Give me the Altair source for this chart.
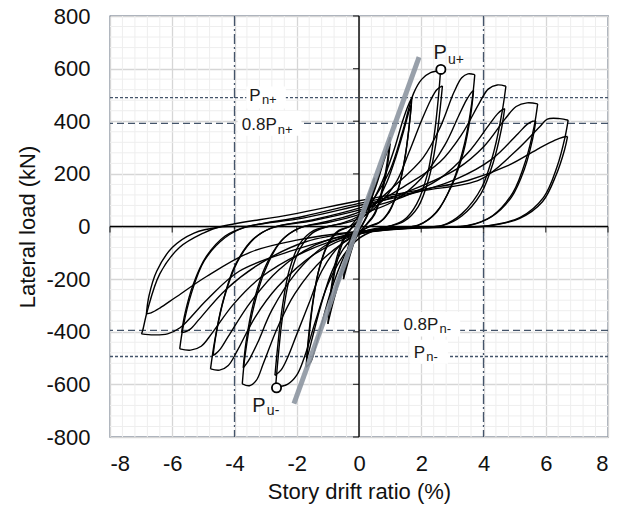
import altair as alt
import pandas as pd
import numpy as np

alt.data_transformers.disable_max_rows()

# ---------------- hysteresis data (story drift %, lateral load kN) ----------------
# each list = one path from a load reversal (tip) to the next tip
level_05 = [
    [(0, 0), (0.15, 60), (0.3, 115), (0.42, 160), (0.5, 185)],
    [(0.5, 185), (0.42, 120), (0.3, 55), (0.12, 10), (-0.05, -25), (-0.2, -75), (-0.35, -135), (-0.5, -200)],
    [(-0.5, -200), (-0.42, -130), (-0.3, -60), (-0.12, -12), (0.05, 20), (0.2, 65), (0.35, 120), (0.5, 170)],
    [(0.5, 170), (0.42, 110), (0.3, 50), (0.12, 8), (-0.05, -22), (-0.2, -70), (-0.35, -125), (-0.5, -185)],
]
level_10 = [
    [(-0.5, -185), (-0.4, -110), (-0.25, -40), (-0.1, -5), (0.1, 35), (0.35, 100), (0.6, 180), (0.8, 260), (0.92, 310), (1.0, 340)],
    [(1.0, 340), (0.9, 240), (0.72, 130), (0.5, 50), (0.25, 10), (0.0, -25), (-0.3, -90), (-0.55, -175), (-0.8, -275), (-0.92, -330), (-1.0, -370)],
    [(-1.0, -370), (-0.9, -260), (-0.72, -140), (-0.5, -55), (-0.25, -8), (0.0, 25), (0.3, 80), (0.55, 155), (0.8, 250), (0.92, 290), (1.0, 315)],
    [(1.0, 315), (0.9, 220), (0.72, 120), (0.5, 45), (0.25, 8), (0.0, -22), (-0.3, -80), (-0.55, -160), (-0.8, -255), (-0.92, -310), (-1.0, -345)],
]
level_17 = [
    [(-1.0, -345), (-0.9, -240), (-0.72, -120), (-0.45, -35), (-0.15, 5), (0.2, 55), (0.5, 110), (0.85, 200), (1.15, 300), (1.4, 400), (1.58, 460), (1.7, 490)],
    [(1.7, 490), (1.63, 400), (1.5, 280), (1.3, 160), (1.0, 65), (0.7, 20), (0.35, 2), (0.0, -25), (-0.5, -120), (-0.9, -245), (-1.2, -370), (-1.4, -460), (-1.55, -515), (-1.7, -535)],
    [(-1.7, -535), (-1.63, -430), (-1.5, -300), (-1.3, -170), (-1.0, -70), (-0.65, -18), (-0.3, 0), (0.0, 22), (0.5, 80), (0.9, 170), (1.2, 270), (1.45, 370), (1.6, 435), (1.68, 462)],
    [(1.68, 462), (1.6, 370), (1.47, 255), (1.27, 145), (0.97, 55), (0.65, 15), (0.3, -2), (0.0, -22), (-0.5, -85), (-0.9, -180), (-1.2, -290), (-1.45, -400), (-1.6, -470), (-1.68, -505)],
]
level_26 = [
    [(-1.68, -505), (-1.6, -410), (-1.48, -290), (-1.28, -160), (-0.98, -60), (-0.65, -15), (-0.3, 0), (0.0, 40), (0.5, 110), (1.0, 215), (1.4, 360), (1.75, 505), (2.02, 560), (2.3, 585), (2.62, 592)],
    [(2.62, 592), (2.55, 490), (2.42, 350), (2.2, 200), (1.85, 85), (1.45, 25), (1.0, 2), (0.5, -15), (0.0, -45), (-0.5, -110), (-1.0, -220), (-1.4, -360), (-1.75, -495), (-2.0, -565), (-2.3, -600), (-2.68, -610)],
    [(-2.68, -610), (-2.6, -500), (-2.47, -355), (-2.25, -205), (-1.9, -85), (-1.5, -25), (-1.0, 0), (-0.5, 12), (0.0, 30), (0.6, 80), (1.2, 170), (1.6, 280), (2.0, 400), (2.3, 480), (2.5, 520), (2.68, 534)],
    [(2.68, 534), (2.6, 440), (2.47, 315), (2.25, 185), (1.9, 75), (1.45, 20), (1.0, 2), (0.5, -8), (0.0, -25), (-0.6, -70), (-1.2, -170), (-1.6, -290), (-2.0, -410), (-2.3, -500), (-2.5, -545), (-2.7, -566)],
]
level_37 = [
    [(-2.7, -566), (-2.62, -465), (-2.48, -320), (-2.25, -170), (-1.9, -65), (-1.45, -15), (-1.0, 0), (-0.5, 15), (0.0, 40), (1.1, 150), (2.05, 260), (2.6, 375), (3.05, 510), (3.3, 565), (3.5, 580), (3.72, 577)],
    [(3.72, 577), (3.63, 475), (3.4, 320), (3.0, 165), (2.5, 55), (1.9, 5), (1.0, -8), (0.0, -30), (-1.12, -120), (-2.06, -255), (-2.62, -385), (-3.07, -520), (-3.3, -585), (-3.52, -605), (-3.75, -598)],
    [(-3.75, -598), (-3.66, -490), (-3.43, -330), (-3.03, -170), (-2.5, -55), (-1.9, -5), (-1.0, 15), (0.0, 45), (1.1, 95), (2.02, 185), (2.76, 310), (3.2, 420), (3.45, 480), (3.6, 508), (3.68, 517)],
    [(3.68, 517), (3.59, 425), (3.36, 285), (2.96, 150), (2.45, 50), (1.9, 4), (1.0, -5), (0.0, -22), (-1.12, -75), (-2.05, -180), (-2.8, -318), (-3.25, -440), (-3.5, -500), (-3.64, -525), (-3.72, -537)],
]
level_47 = [
    [(-3.72, -537), (-3.63, -440), (-3.4, -295), (-3.0, -150), (-2.45, -48), (-1.9, -5), (-1.0, 20), (0.0, 55), (1.42, 150), (2.6, 245), (3.3, 350), (3.87, 470), (4.15, 522), (4.44, 538), (4.72, 533)],
    [(4.72, 533), (4.6, 437), (4.35, 293), (3.95, 150), (3.3, 48), (2.7, 5), (1.4, -6), (0.0, -28), (-1.43, -105), (-2.62, -230), (-3.34, -345), (-3.91, -472), (-4.2, -528), (-4.48, -546), (-4.77, -541)],
    [(-4.77, -541), (-4.65, -444), (-4.4, -298), (-4.0, -152), (-3.4, -48), (-2.8, -5), (-1.5, 22), (0.0, 62), (1.4, 112), (2.57, 180), (3.5, 280), (4.2, 390), (4.45, 428), (4.6, 443), (4.68, 448)],
    [(4.68, 448), (4.57, 367), (4.32, 246), (3.92, 125), (3.3, 40), (2.7, 4), (1.4, -4), (0.0, -22), (-1.4, -70), (-2.58, -165), (-3.5, -290), (-4.2, -418), (-4.45, -465), (-4.6, -483), (-4.69, -490)],
]
level_57 = [
    [(-4.69, -490), (-4.58, -402), (-4.33, -270), (-3.92, -137), (-3.35, -44), (-2.8, -5), (-1.4, 28), (0.0, 70), (1.72, 140), (3.16, 220), (4.02, 305), (4.7, 410), (5.05, 456), (5.4, 470), (5.74, 466)],
    [(5.74, 466), (5.63, 382), (5.37, 256), (4.95, 130), (4.3, 42), (3.5, 4), (1.8, -5), (0.0, -28), (-1.73, -95), (-3.17, -195), (-4.03, -295), (-4.72, -405), (-5.07, -455), (-5.41, -470), (-5.76, -465)],
    [(-5.76, -465), (-5.65, -381), (-5.39, -256), (-4.97, -130), (-4.3, -42), (-3.7, -4), (-1.8, 32), (0.0, 80), (1.7, 125), (3.12, 180), (4.26, 255), (5.1, 352), (5.4, 388), (5.58, 400), (5.68, 400)],
    [(5.68, 400), (5.57, 328), (5.32, 220), (4.9, 112), (4.25, 36), (3.5, 3), (1.8, -4), (0.0, -20), (-1.71, -58), (-3.14, -138), (-4.28, -240), (-5.13, -352), (-5.42, -390), (-5.6, -401), (-5.7, -402)],
]
level_67 = [
    [(-5.7, -402), (-5.59, -330), (-5.33, -221), (-4.9, -113), (-4.3, -36), (-3.7, -4), (-1.8, 38), (0.0, 88), (2.0, 135), (3.89, 178), (4.96, 278), (5.8, 378), (6.05, 408), (6.45, 410), (6.72, 404)],
    [(6.72, 404), (6.62, 340), (6.36, 226), (5.93, 111), (5.18, 35), (4.2, 4), (2.0, -5), (0.0, -25), (-2.1, -90), (-3.85, -170), (-4.9, -280), (-5.75, -385), (-6.15, -408), (-6.6, -412), (-6.99, -408)],
    [(-6.99, -408), (-6.95, -395), (-6.8, -320), (-6.4, -180), (-5.76, -79), (-5.0, -25), (-4.5, -2), (-2.2, 45), (0.0, 98), (2.0, 140), (3.5, 175), (4.8, 232), (5.8, 298), (6.3, 328), (6.55, 339), (6.7, 342)],
    [(6.7, 342), (6.6, 290), (6.33, 195), (5.9, 95), (5.15, 30), (4.2, 3), (2.0, -4), (0.0, -18), (-2.0, -52), (-3.5, -98), (-4.9, -190), (-5.9, -270), (-6.4, -310), (-6.68, -328), (-6.83, -332)],
    [(-6.83, -332), (-6.75, -265), (-6.5, -170), (-6.0, -80), (-5.3, -25), (-4.5, -3), (-3.5, 0)],
]

# reference levels (kN) and drift limits (%)
pn_levels = [490, -494]
pn08_levels = [392, -395]
drift_limits = [-4, 4]

# initial stiffness line
stiff_x = [-2.09, 1.93]
stiff_y = [-673, 644]

# peak loads Pu+ / Pu-
peak_x = [2.63, -2.65]
peak_y = [597, -613]

# axis tick values
x_ticks = [-8, -6, -4, -2, 0, 2, 4, 6, 8]
y_ticks = [-800, -600, -400, -200, 0, 200, 400, 600, 800]

# label annotations
lab_main_text = ["P", "0.8P", "0.8P", "P", "P", "P"]
lab_main_x = [-3.16, -2.64, 2.55, 2.12, 2.82, -3.0]
lab_main_y = [477, 368, -392, -500, 635, -704]
lab_main_size = [17, 17, 17, 17, 20, 20]
lab_sub_text = ["n+", "n+", "n-", "n-", "u+", "u-"]
lab_sub_x = [-3.12, -2.61, 2.59, 2.16, 2.86, -2.96]
lab_sub_y = [464, 353, -404, -513, 619, -715]
lab_sub_size = [13, 13, 13, 13, 14, 14]

# white label backgrounds
box_x1 = [-3.62, -3.9, 1.3, 1.64]
box_x2 = [-2.35, -1.85, 3.25, 2.86]
box_y1 = [448, 345, -418, -522]
box_y2 = [532, 440, -325, -430]

# ---------------- build tables ----------------
rows = []
sid = 0
for lev in [level_05, level_10, level_17, level_26, level_37, level_47, level_57, level_67]:
    for seg in lev:
        for i, (x, y) in enumerate(seg):
            rows.append({"seg": sid, "i": i, "drift": x, "load": y})
        sid += 1
curves = pd.DataFrame(rows)

minor_x = [float(v) for v in np.round(np.arange(-8, 8.001, 0.4), 2) if abs(v / 2 - round(v / 2)) > 1e-6]
minor_y = [v for v in range(-800, 801, 40) if v % 200 != 0]

xs = alt.Scale(domain=[-8, 8], nice=False, zero=False)
ys = alt.Scale(domain=[-800, 800], nice=False, zero=False)

FONT = "Liberation Sans"
x_axis = alt.Axis(values=x_ticks, title="Story drift ratio (%)", grid=True, gridColor="#d6d6d6",
                  gridWidth=1.3, ticks=False, domain=False, labelPadding=16, titlePadding=7,
                  labelExpr="'' + datum.value",
                  labelFont=FONT, labelFontSize=22, labelColor="#111111", titleFont=FONT,
                  titleFontSize=22, titleFontWeight="normal", titleColor="#111111")
y_axis = alt.Axis(values=y_ticks, title="Lateral load (kN)", grid=True, gridColor="#d6d6d6",
                  gridWidth=1.3, ticks=False, domain=False, labelPadding=20, titlePadding=6,
                  labelExpr="'' + datum.value",
                  labelFont=FONT, labelFontSize=22, labelColor="#111111", titleFont=FONT,
                  titleFontSize=22, titleFontWeight="normal", titleColor="#111111")


def X(field):
    return alt.X(field, scale=xs, axis=x_axis, title="Story drift ratio (%)")


def Y(field):
    return alt.Y(field, scale=ys, axis=y_axis, title="Lateral load (kN)")


grid_vx = alt.Chart(pd.DataFrame({"v": minor_x})).mark_rule(color="#eeeeee", strokeWidth=1).encode(x=X("v:Q"))
grid_hy = alt.Chart(pd.DataFrame({"v": minor_y})).mark_rule(color="#eeeeee", strokeWidth=1).encode(y=Y("v:Q"))

pn_rules = alt.Chart(pd.DataFrame({"v": pn_levels})).mark_rule(
    color="#44546a", strokeWidth=1.3, strokeDash=[3, 2]).encode(y=Y("v:Q"))
pn08_rules = alt.Chart(pd.DataFrame({"v": pn08_levels})).mark_rule(
    color="#44546a", strokeWidth=1.3, strokeDash=[7, 4]).encode(y=Y("v:Q"))
drift_rules = alt.Chart(pd.DataFrame({"v": drift_limits})).mark_rule(
    color="#44546a", strokeWidth=1.3, strokeDash=[10, 3, 2, 3]).encode(x=X("v:Q"))

zero_v = alt.Chart(pd.DataFrame({"v": [0]})).mark_rule(color="black", strokeWidth=1.4).encode(x=X("v:Q"))
zero_h = alt.Chart(pd.DataFrame({"v": [0]})).mark_rule(color="black", strokeWidth=1.4).encode(y=Y("v:Q"))

xt = [v for v in x_ticks if v != 0]
yt = [v for v in y_ticks if v != 0]
ticks_x = alt.Chart(pd.DataFrame({"x": xt, "y": [0] * len(xt)})).mark_tick(
    orient="vertical", size=6, thickness=1.3, color="black", yOffset=3).encode(x=X("x:Q"), y=Y("y:Q"))
ticks_y = alt.Chart(pd.DataFrame({"x": [0] * len(yt), "y": yt})).mark_tick(
    orient="horizontal", size=6, thickness=1.3, color="black", xOffset=-3).encode(x=X("x:Q"), y=Y("y:Q"))

loops = alt.Chart(curves).mark_line(color="black", strokeWidth=1.4, interpolate="catmull-rom").encode(
    x=X("drift:Q"), y=Y("load:Q"), detail="seg:N", order="i:Q")

stiff = alt.Chart(pd.DataFrame({"x": stiff_x, "y": stiff_y})).mark_line(
    color="#8d96a1", strokeWidth=5, opacity=0.9, strokeCap="butt").encode(x=X("x:Q"), y=Y("y:Q"))

boxes = alt.Chart(pd.DataFrame({"x1": box_x1, "x2": box_x2, "y1": box_y1, "y2": box_y2})).mark_rect(
    color="white").encode(x=X("x1:Q"), x2="x2:Q", y=Y("y1:Q"), y2="y2:Q")

main_txt = alt.Chart(pd.DataFrame({"x": lab_main_x, "y": lab_main_y, "t": lab_main_text, "s": lab_main_size})).mark_text(
    align="right", baseline="alphabetic", font=FONT, color="#1a1a1a").encode(
    x=X("x:Q"), y=Y("y:Q"), text="t:N", size=alt.Size("s:Q", scale=None, legend=None))
sub_txt = alt.Chart(pd.DataFrame({"x": lab_sub_x, "y": lab_sub_y, "t": lab_sub_text, "s": lab_sub_size})).mark_text(
    align="left", baseline="alphabetic", font=FONT, color="#1a1a1a").encode(
    x=X("x:Q"), y=Y("y:Q"), text="t:N", size=alt.Size("s:Q", scale=None, legend=None))

peaks = alt.Chart(pd.DataFrame({"x": peak_x, "y": peak_y})).mark_point(
    shape="circle", filled=True, fill="white", stroke="black", strokeWidth=1.8, size=85, opacity=1).encode(
    x=X("x:Q"), y=Y("y:Q"))

chart = alt.layer(
    grid_vx, grid_hy, pn_rules, pn08_rules, drift_rules, zero_v, zero_h, ticks_x, ticks_y,
    loops, stiff, boxes, main_txt, sub_txt, peaks
).properties(
    width=498, height=421,
    padding={"left": 110, "top": 16, "right": 21, "bottom": 68},
    autosize=alt.AutoSizeParams(type="none"),
    background="white",
).configure_view(stroke="#44546a", strokeWidth=1.3)

chart.save("out.html", embed_options={"renderer": "svg", "actions": False})
